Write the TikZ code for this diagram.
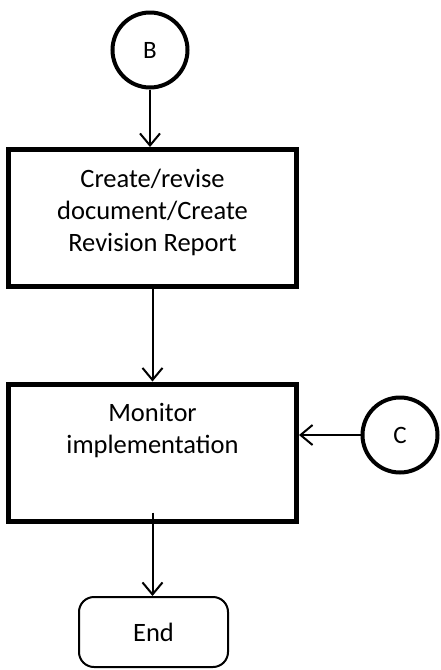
\documentclass[tikz,border=0pt]{standalone}
\usepackage{fontspec}
\setmainfont{Carlito}
\usepackage{tikz}
\usetikzlibrary{arrows.meta}

\begin{document}
\begin{tikzpicture}[x=1pt,y=-1pt,
	font=\fontsize{26.5}{32}\selectfont,
	conn/.style={draw,circle,line width=4pt,minimum size=75pt,inner sep=0pt,font=\fontsize{25}{30}\selectfont},
	stepbox/.style={draw,rectangle,line width=5pt,minimum width=288pt,minimum height=137pt},
	boxtext/.style={align=center,inner sep=0pt},
	endbox/.style={draw,rectangle,rounded corners=15pt,line width=2pt,minimum width=149pt,minimum height=70pt},
	flow/.style={line width=2pt,-{Straight Barb[length=12pt,width=20pt,line width=2pt]}}]
			\useasboundingbox (0,0) rectangle (441,670);
			\node[conn] (B) at (150,50) {B};
			\node[stepbox] (create) at (152.5,218) {};
			\node[boxtext] (createtxt) at (152.5,212) {Create/revise\\document/Create\\Revision Report};
			\node[stepbox] (monitor) at (152.5,452.5) {};
			\node[boxtext] (monitortxt) at (152.5,431) {Monitor\\implementation};
			\node[conn] (C) at (400,435) {C};
			\node[endbox] (end) at (153.5,632) {End};
			\draw[flow] (B.south) -- (B.south |- create.north);
			\draw[flow] (create.south) -- (create.south |- monitor.north);
			\draw[flow] (C.west) -- (C.west -| monitor.east);
			\draw[flow] ([yshift=11pt]monitor.south) -- (monitor.south |- end.north);
\end{tikzpicture}
\end{document}
